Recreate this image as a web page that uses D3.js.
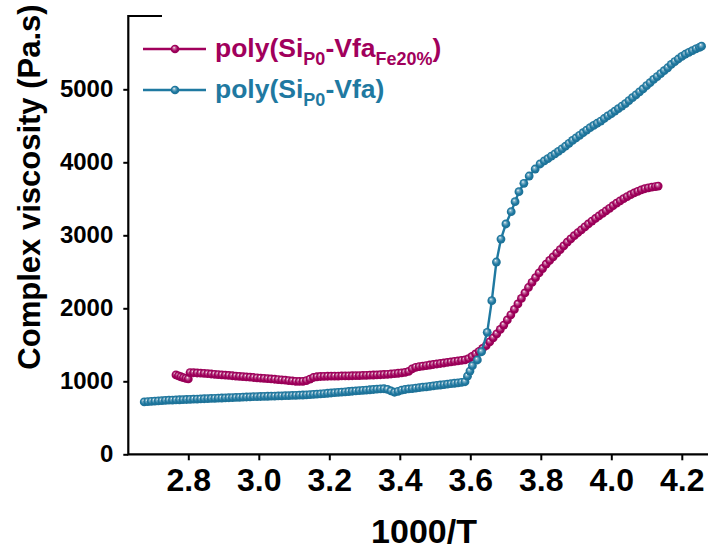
<!DOCTYPE html>
<html>
<head>
<meta charset="utf-8">
<script src="https://cdn.jsdelivr.net/npm/d3@7"></script>
<style>
  body { margin: 0; background: #fff; }
  svg text { font-family: "Liberation Sans", Arial, sans-serif; font-weight: bold; }
</style>
</head>
<body>
<div id="chart"></div>
<script>
// x = 1000/T, y = complex viscosity (Pa.s)
var xTicks = [2.8, 3.0, 3.2, 3.4, 3.6, 3.8, 4.0, 4.2];
var yTicks = [0, 1000, 2000, 3000, 4000, 5000];

var feX = [2.765, 2.772, 2.779, 2.786, 2.793, 2.800,
  2.805, 2.815, 2.825, 2.835, 2.845, 2.855, 2.865, 2.875, 2.885, 2.895, 2.905, 2.915, 2.925, 2.935, 2.945,
  2.955, 2.965, 2.975, 2.985, 2.995, 3.005, 3.015, 3.025, 3.035, 3.045, 3.055, 3.065, 3.075, 3.085, 3.095,
  3.105, 3.115, 3.125, 3.135, 3.145, 3.155, 3.165, 3.175, 3.185, 3.195, 3.205, 3.215, 3.225, 3.235, 3.245,
  3.255, 3.265, 3.275, 3.285, 3.295, 3.305, 3.315, 3.325, 3.335, 3.345, 3.355, 3.365, 3.375, 3.385, 3.395,
  3.405, 3.415, 3.425, 3.435, 3.445, 3.455, 3.465, 3.475, 3.485, 3.495, 3.505, 3.515, 3.525, 3.535, 3.545,
  3.555, 3.565, 3.575, 3.585, 3.595, 3.605, 3.615, 3.625, 3.635, 3.645, 3.655, 3.665, 3.675, 3.685, 3.695,
  3.705, 3.715, 3.725, 3.735, 3.745, 3.755, 3.765, 3.775, 3.785, 3.795, 3.805, 3.815, 3.825, 3.835, 3.845,
  3.855, 3.865, 3.875, 3.885, 3.895, 3.905, 3.915, 3.925, 3.935, 3.945, 3.955, 3.965, 3.975, 3.985, 3.995,
  4.005, 4.015, 4.025, 4.035, 4.045, 4.055, 4.065, 4.075, 4.085, 4.095, 4.105, 4.115, 4.125, 4.133];
var feY = [1088, 1075, 1062, 1050, 1040, 1032,
  1120, 1117, 1114, 1111, 1108, 1104, 1100, 1096, 1092, 1088, 1084, 1080, 1076, 1072, 1068,
  1064, 1060, 1056, 1052, 1048, 1044, 1040, 1036, 1032, 1028, 1024, 1020, 1016, 1010, 1005,
  1000, 998, 1000, 1010, 1030, 1052, 1062, 1066, 1068, 1069, 1070, 1071, 1072, 1073, 1074,
  1075, 1076, 1077, 1078, 1080, 1082, 1084, 1086, 1088, 1090, 1093, 1096, 1100, 1105, 1110,
  1116, 1122, 1135, 1170, 1192, 1202, 1209, 1216, 1223, 1230, 1237, 1244, 1251, 1258, 1265,
  1272, 1279, 1286, 1293, 1310, 1340, 1375, 1410, 1450, 1490, 1540, 1595, 1650, 1710, 1770,
  1840, 1910, 1985, 2060, 2135, 2210, 2285, 2355, 2420, 2485, 2545, 2605, 2655, 2705, 2755,
  2805, 2855, 2905, 2950, 2995, 3035, 3075, 3115, 3155, 3195, 3230, 3265, 3300, 3335, 3370,
  3405, 3440, 3472, 3502, 3530, 3556, 3580, 3602, 3622, 3638, 3650, 3660, 3668, 3675];

var siX = [2.675, 2.685, 2.695, 2.705, 2.715, 2.725, 2.735, 2.745, 2.755, 2.765, 2.775, 2.785, 2.795, 2.805,
  2.815, 2.825, 2.835, 2.845, 2.855, 2.865, 2.875, 2.885, 2.895, 2.905, 2.915, 2.925, 2.935, 2.945, 2.955,
  2.965, 2.975, 2.985, 2.995, 3.005, 3.015, 3.025, 3.035, 3.045, 3.055, 3.065, 3.075, 3.085, 3.095, 3.105,
  3.115, 3.125, 3.135, 3.145, 3.155, 3.165, 3.175, 3.185, 3.195, 3.205, 3.215, 3.225, 3.235, 3.245, 3.255,
  3.265, 3.275, 3.285, 3.295, 3.305, 3.315, 3.325, 3.335, 3.345, 3.355, 3.365, 3.375, 3.385, 3.395, 3.405,
  3.415, 3.425, 3.435, 3.445, 3.455, 3.465, 3.475, 3.485, 3.495, 3.505, 3.515, 3.525, 3.535, 3.545, 3.555,
  3.565, 3.575, 3.585, 3.592, 3.599, 3.606, 3.620, 3.632, 3.648, 3.661, 3.674, 3.687, 3.701, 3.716, 3.727,
  3.738, 3.752, 3.767, 3.784, 3.798, 3.810, 3.820, 3.830, 3.840, 3.850, 3.860, 3.870, 3.880, 3.890, 3.900,
  3.910, 3.920, 3.930, 3.940, 3.950, 3.960, 3.970, 3.980, 3.990, 4.000, 4.010, 4.020, 4.030, 4.040, 4.050,
  4.060, 4.070, 4.080, 4.090, 4.100, 4.110, 4.120, 4.130, 4.140, 4.150, 4.160, 4.170, 4.180, 4.190, 4.200,
  4.210, 4.220, 4.230, 4.240, 4.250, 4.256];
var siY = [718, 722, 726, 729, 732, 735, 738, 741, 743, 745, 747, 749, 751, 753,
  755, 757, 759, 761, 763, 765, 767, 769, 771, 773, 775, 777, 779, 781, 783,
  785, 787, 789, 791, 792, 794, 795, 797, 798, 800, 801, 803, 804, 806, 808,
  810, 812, 815, 818, 821, 824, 828, 832, 836, 840, 844, 848, 852, 856, 860,
  864, 868, 872, 876, 880, 884, 888, 892, 896, 898, 890, 868, 850, 862, 880,
  888, 895, 901, 907, 913, 919, 925, 931, 937, 943, 949, 955, 961, 967, 973,
  979, 986, 994, 1070, 1140, 1214, 1292, 1405, 1671, 2104, 2634, 2948, 3155, 3323, 3460,
  3597, 3712, 3812, 3908, 3977, 4020, 4050, 4085, 4115, 4150, 4185, 4220, 4260, 4300, 4335,
  4370, 4405, 4440, 4475, 4505, 4535, 4565, 4600, 4635, 4665, 4700, 4735, 4770, 4805, 4845,
  4885, 4925, 4965, 5005, 5050, 5090, 5135, 5175, 5215, 5255, 5295, 5340, 5380, 5415, 5450,
  5480, 5505, 5530, 5555, 5575, 5590];

var magenta = "#a1005c";
var blue = "#1f79a1";

var width = 708, height = 552;
var svg = d3.select("#chart").append("svg")
    .attr("width", width)
    .attr("height", height);
svg.append("rect").attr("width", width).attr("height", height).attr("fill", "#fff");

var x = d3.scaleLinear().domain([2.8, 4.2]).range([188.3, 681.8]);
var y = d3.scaleLinear().domain([0, 5000]).range([454.3, 89.3]);
var plotLeft = 128.3, plotTop = 16, plotBottom = y(0);

// sphere-like marker gradients
var defs = svg.append("defs");
function sphere(id, col) {
    var g = defs.append("radialGradient").attr("id", id)
        .attr("cx", "50%").attr("cy", "50%").attr("r", "55%")
        .attr("fx", "38%").attr("fy", "32%");
    g.append("stop").attr("offset", "0%").attr("stop-color", "#ffffff");
    g.append("stop").attr("offset", "22%").attr("stop-color", d3.interpolateRgb(col, "#fff")(0.45));
    g.append("stop").attr("offset", "60%").attr("stop-color", col);
    g.append("stop").attr("offset", "100%").attr("stop-color", d3.color(col).darker(0.3));
}
sphere("gMag", magenta);
sphere("gBlue", blue);

// axes
var xAxis = svg.append("g")
    .attr("transform", `translate(0, ${plotBottom})`)
    .call(d3.axisBottom(x).tickValues(xTicks).tickSize(6).tickPadding(8).tickFormat(d3.format(".1f")));
xAxis.select(".domain").remove();
xAxis.selectAll("line").attr("stroke", "#000").attr("stroke-width", 2);
xAxis.selectAll("text").attr("fill", "#000").style("font-size", "32px").attr("dy", "0.72em");

var yAxis = svg.append("g")
    .attr("transform", `translate(${plotLeft}, 0)`)
    .call(d3.axisLeft(y).tickValues(yTicks).tickSize(5).tickPadding(10).tickFormat(d3.format("d")));
yAxis.select(".domain").remove();
yAxis.selectAll("line").attr("stroke", "#000").attr("stroke-width", 2);
yAxis.selectAll("text").attr("fill", "#000").style("font-size", "24px");

// frame: left axis, bottom axis, short top stub
svg.append("path")
    .attr("d", `M162,${plotTop}H${plotLeft}V${plotBottom}H${width}`)
    .attr("fill", "none").attr("stroke", "#000").attr("stroke-width", 2.2);

svg.append("text")
    .attr("transform", `translate(40, 187) rotate(-90)`)
    .attr("text-anchor", "middle")
    .style("font-size", "31px")
    .text("Complex viscosity (Pa.s)");

svg.append("text")
    .attr("x", 424).attr("y", 543)
    .attr("text-anchor", "middle")
    .style("font-size", "34px")
    .text("1000/T");

// series
function drawSeries(xs, ys, col, grad) {
    var pts = xs.map((d, i) => [d, ys[i]]);
    var line = d3.line().x(d => x(d[0])).y(d => y(d[1]));
    svg.append("path").datum(pts)
        .attr("d", line)
        .attr("fill", "none")
        .attr("stroke", col)
        .attr("stroke-width", 2.4);
    svg.append("g").selectAll("circle")
        .data(pts)
        .enter()
        .append("circle")
        .attr("cx", d => x(d[0]))
        .attr("cy", d => y(d[1]))
        .attr("r", 4.4)
        .attr("fill", `url(#${grad})`);
}
drawSeries(feX, feY, magenta, "gMag");
drawSeries(siX, siY, blue, "gBlue");

// legend
var legendRows = [
    {col: magenta, grad: "gMag", y: 49, sub2: "Fe20%"},
    {col: blue, grad: "gBlue", y: 90, sub2: null}
];
legendRows.forEach(function(r) {
    var g = svg.append("g");
    g.append("line")
        .attr("x1", 143).attr("x2", 206)
        .attr("y1", r.y).attr("y2", r.y)
        .attr("stroke", r.col).attr("stroke-width", 2.5);
    g.append("circle")
        .attr("cx", 175).attr("cy", r.y).attr("r", 4.3)
        .attr("fill", `url(#${r.grad})`);
    var t = g.append("text")
        .attr("x", 215).attr("y", r.y + 8)
        .attr("fill", r.col)
        .style("font-size", "26.5px");
    t.append("tspan").text("poly(Si");
    t.append("tspan").attr("dy", 8).style("font-size", "18px").text("P0");
    t.append("tspan").attr("dy", -8).text("-Vfa");
    if (r.sub2) {
        t.append("tspan").attr("dy", 8).style("font-size", "18px").text(r.sub2);
        t.append("tspan").attr("dy", -8).text(")");
    } else {
        t.append("tspan").text(")");
    }
});
</script>
</body>
</html>
